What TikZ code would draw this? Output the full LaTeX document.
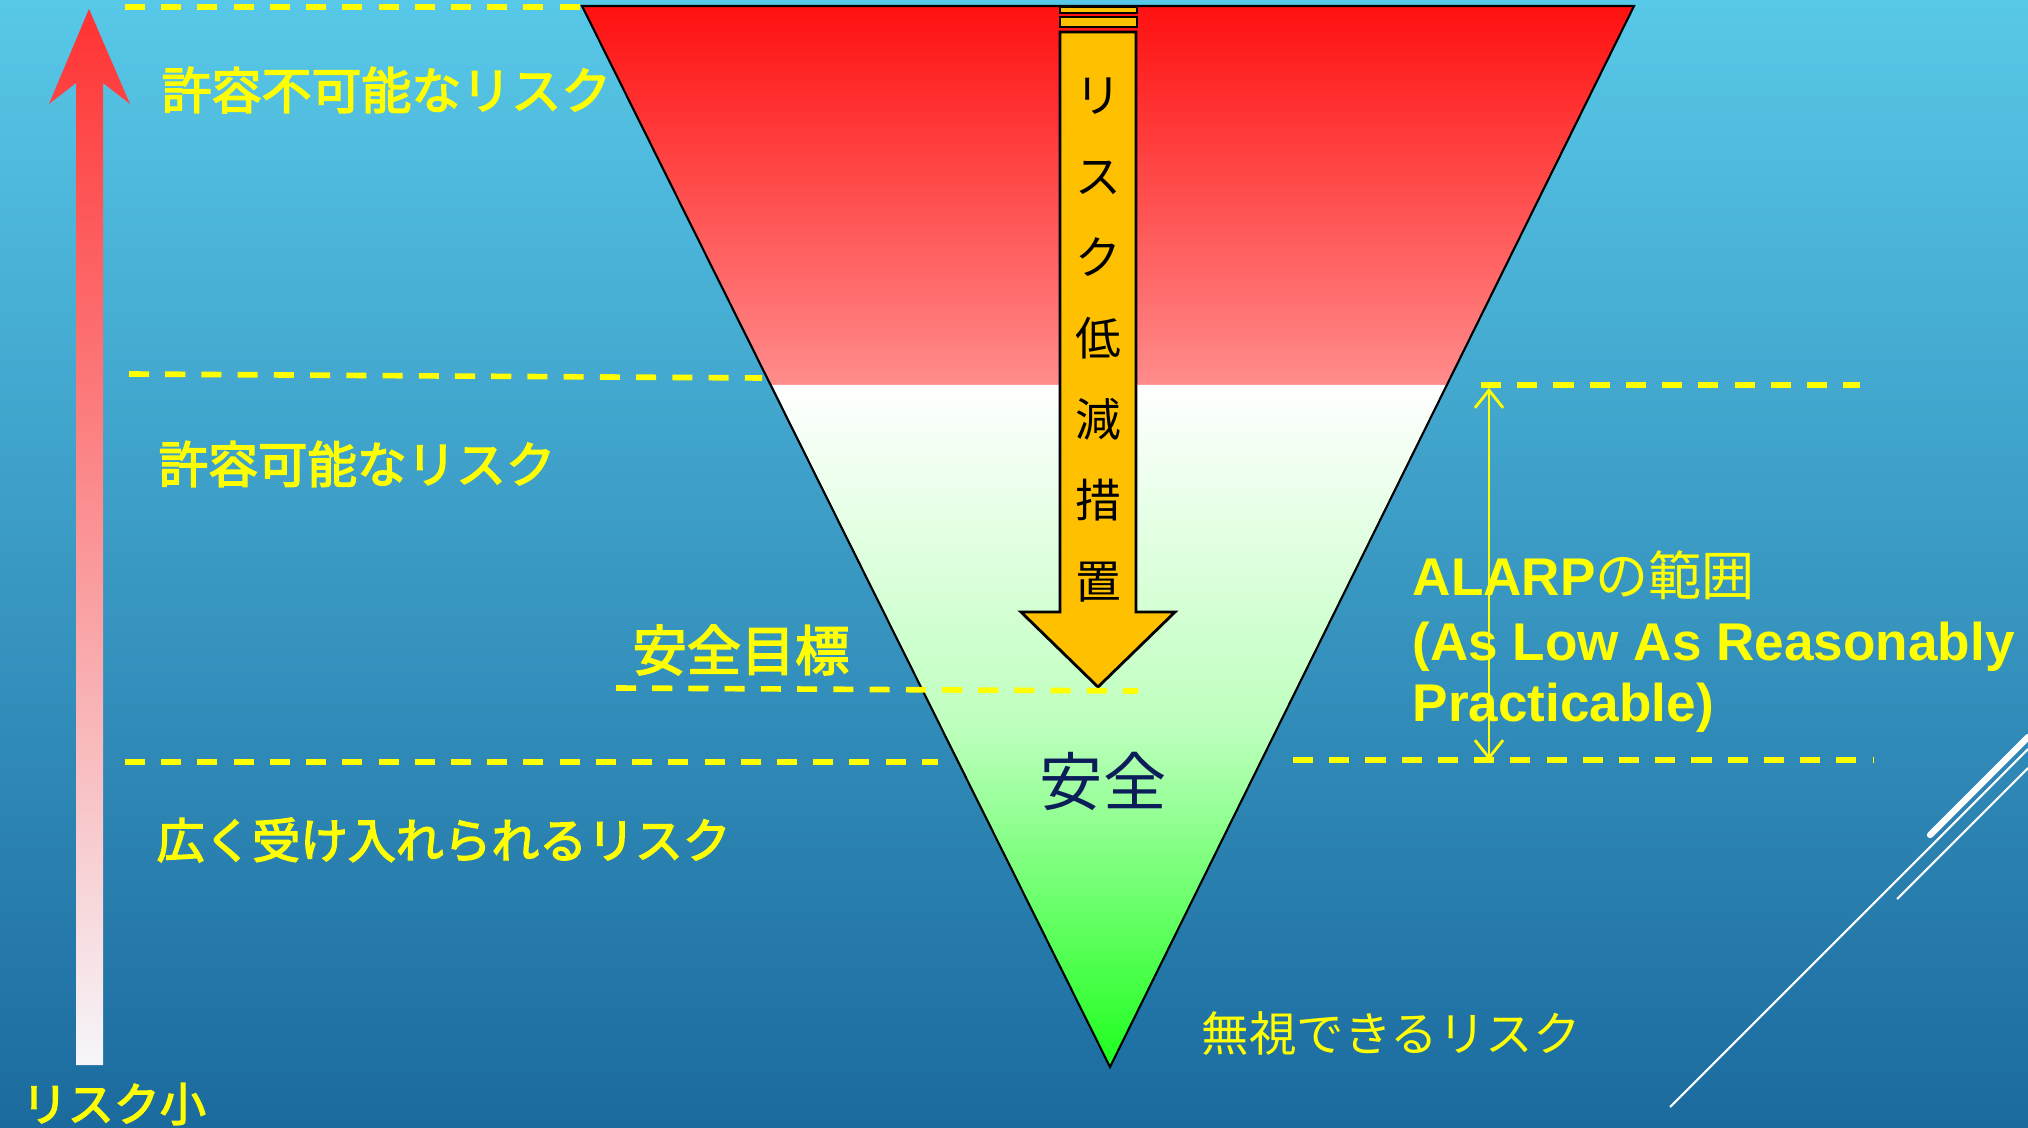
\documentclass[tikz,border=0pt]{standalone}
\usepackage{fontspec}
\setmainfont{Liberation Sans}
\newfontfamily\jp{Noto Sans CJK JP}
\newfontfamily\jpm[FakeBold=3]{Noto Sans CJK JP}
\usetikzlibrary{arrows.meta}
\definecolor{bgtop}{RGB}{88,200,232}
\definecolor{bgbot}{RGB}{27,106,158}
\definecolor{redtop}{RGB}{255,16,16}
\definecolor{redbot}{RGB}{255,140,140}
\definecolor{greenbot}{RGB}{30,255,30}
\definecolor{arrred}{RGB}{255,50,50}
\definecolor{arrwhite}{RGB}{246,246,250}
\definecolor{orng}{RGB}{255,192,0}
\definecolor{yel}{RGB}{255,255,0}
\definecolor{navy}{RGB}{12,30,90}
\begin{document}
\begin{tikzpicture}[x=0.01cm,y=-0.01cm,
  lbl/.style={text=yel, inner sep=0, anchor=west},
  ydash/.style={draw=yel, line width=1.6pt, dash pattern=on 5.7pt off 4.6pt},
  edge/.style={draw=black, line width=0.6pt},
  deco/.style={draw=white, line width=0.6pt}]
% background
\shade[top color=bgtop, bottom color=bgbot] (0,0) rectangle (2028,1128);
\useasboundingbox (0,0) rectangle (2028,1128);
% left risk arrow
\shade[top color=arrred, bottom color=arrwhite]
  (89,9) -- (130,104) -- (103,83) -- (103,1065) -- (76,1065) -- (76,83) -- (49,104) -- cycle;
% triangle
\coordinate (TL) at (582,6);
\coordinate (TR) at (1634,6);
\coordinate (BL) at (772,385);
\coordinate (BR) at (1446,385);
\coordinate (TIP) at (1110,1067);
\shade[top color=redtop, bottom color=redbot] (TL) -- (TR) -- (BR) -- (BL) -- cycle;
\shade[top color=white, bottom color=greenbot, middle color={rgb,255:red,190;green,255;blue,190}] (BL) -- (BR) -- (TIP) -- cycle;
\draw[edge] (TL) -- (TR) -- (TIP) -- cycle;
% orange arrow
\filldraw[fill=orng, draw=black, line width=0.8pt] (1060,7) rectangle (1137,13);
\filldraw[fill=orng, draw=black, line width=0.8pt] (1060,17) rectangle (1137,27);
\filldraw[fill=orng, draw=black, line width=0.8pt, line join=miter]
  (1060,32) -- (1060,612) -- (1021,612) -- (1098,687) -- (1175,612) -- (1136,612) -- (1136,32) -- cycle;
\node[inner sep=0, align=center, font=\jp\fontsize{13}{23}\selectfont] (measure) at (1098,340)
  {リ\\ス\\ク\\低\\減\\措\\置};
% dashed lines
\coordinate (d1a) at (125,7);   \coordinate (d1b) at (580,7);
\coordinate (d2a) at (129,374); \coordinate (d2b) at (762,378);
\coordinate (d3a) at (1481,385);\coordinate (d3b) at (1860,385);
\coordinate (d4a) at (616,688); \coordinate (d4b) at (1138,691);
\coordinate (d5a) at (125,762); \coordinate (d5b) at (938,762);
\coordinate (d6a) at (1293,760);\coordinate (d6b) at (1873,760);
\draw[ydash] (d1a) -- (d1b);
\draw[ydash] (d2a) -- (d2b);
\draw[ydash] (d3a) -- (d3b);
\draw[ydash] (d4a) -- (d4b);
\draw[ydash] (d5a) -- (d5b);
\draw[ydash] (d6a) -- (d6b);
% ALARP arrow
\coordinate (alTop) at (1489,388);
\coordinate (alBot) at (1489,760);
\draw[yel, line width=0.8pt, {Straight Barb[length=5pt,width=8pt]}-{Straight Barb[length=5pt,width=8pt]}] (alTop) -- (alBot);
% decorative white lines
\draw[deco] (1670,1107) -- (2028,749);
\draw[deco] (1897,899) -- (2028,768);
\draw[draw=white, line width=1.8pt, line cap=round] (1930,835) -- (2028,737);
% labels
\node[lbl, font=\jpm\fontsize{14.2}{17}\selectfont] (unacc) at (161,90) {許容不可能なリスク};
\node[lbl, font=\jpm\fontsize{14.1}{17}\selectfont] (tol) at (158,464) {許容可能なリスク};
\node[lbl, font=\jpm\fontsize{13.6}{17}\selectfont] (broad) at (156,840) {広く受け入れられるリスク};
\node[lbl, font=\jpm\fontsize{15.4}{18}\selectfont] (target) at (632,650) {安全目標};
\node[inner sep=0, text=navy, font=\jp\fontsize{18}{20}\selectfont] (safe) at (1103,781) {安全};
\node[lbl, font=\jp\fontsize{13.5}{16}\selectfont] (negl) at (1201,1033) {無視できるリスク};
\node[lbl, font=\jpm\fontsize{13.1}{16}\selectfont] (small) at (21,1104) {リスク小};
\node[text=yel, inner sep=0, anchor=base west, font=\bfseries\fontsize{15.1}{18}\selectfont] (alarp1) at (1412,595) {ALARP{\jp\mdseries の範囲}};
\node[text=yel, inner sep=0, anchor=base west, font=\bfseries\fontsize{15.1}{18}\selectfont] (alarp2) at (1412,660) {(As Low As Reasonably};
\node[text=yel, inner sep=0, anchor=base west, font=\bfseries\fontsize{15.1}{18}\selectfont] (alarp3) at (1412,721) {Practicable)};
\end{tikzpicture}
\end{document}
